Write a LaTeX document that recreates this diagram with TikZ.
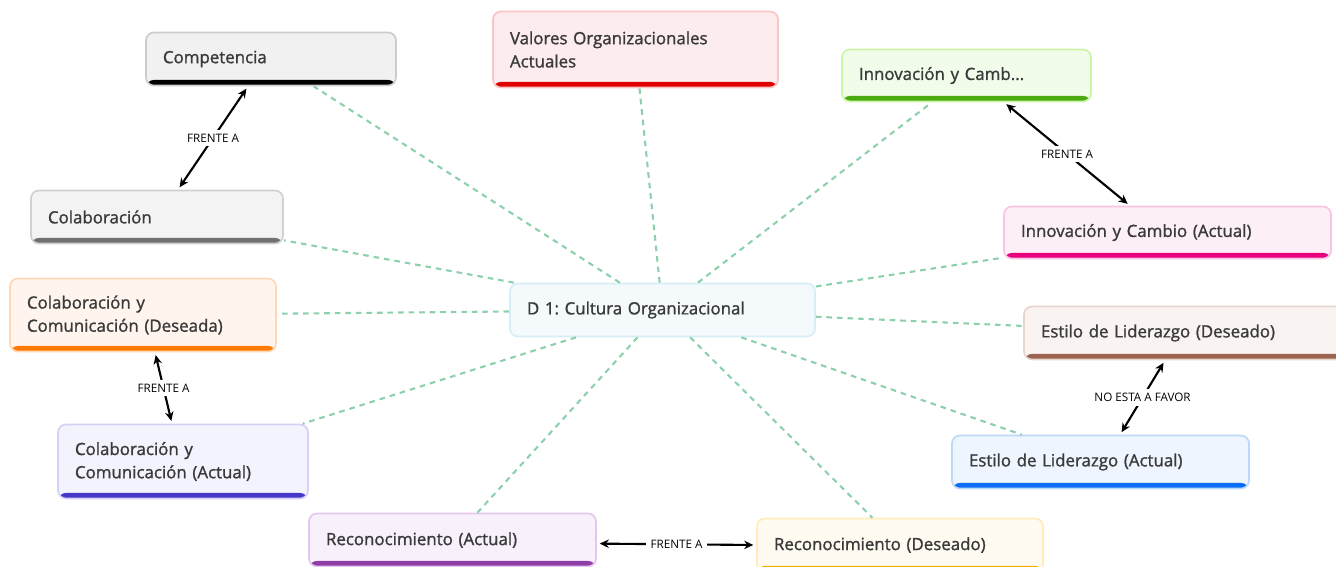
\documentclass[tikz,border=0pt]{standalone}
\usepackage{fontspec}
\setmainfont{Open Sans}
\newfontfamily\topicfont{Open Sans}[FakeBold=1.3]
\frenchspacing
\usetikzlibrary{arrows.meta, calc}
\definecolor{txtGray}{RGB}{58, 58, 58}
\definecolor{linkGreen}{RGB}{141, 208, 172}
\definecolor{compFill}{RGB}{241, 241, 241}
\definecolor{compDraw}{RGB}{204, 204, 204}
\definecolor{valFill}{RGB}{253, 236, 237}
\definecolor{valDraw}{RGB}{249, 197, 197}
\definecolor{valBar}{RGB}{224, 0, 0}
\definecolor{innFill}{RGB}{241, 253, 234}
\definecolor{innDraw}{RGB}{205, 245, 168}
\definecolor{innBar}{RGB}{74, 170, 16}
\definecolor{innAFill}{RGB}{253, 239, 247}
\definecolor{innADraw}{RGB}{250, 195, 227}
\definecolor{innABar}{RGB}{232, 0, 126}
\definecolor{colFill}{RGB}{243, 243, 243}
\definecolor{colDraw}{RGB}{208, 208, 208}
\definecolor{colBar}{RGB}{112, 112, 112}
\definecolor{colDFill}{RGB}{255, 245, 238}
\definecolor{colDDraw}{RGB}{255, 215, 181}
\definecolor{colDBar}{RGB}{255, 122, 0}
\definecolor{colAFill}{RGB}{243, 243, 253}
\definecolor{colADraw}{RGB}{211, 209, 247}
\definecolor{colABar}{RGB}{67, 56, 200}
\definecolor{hubFill}{RGB}{244, 250, 252}
\definecolor{hubDraw}{RGB}{214, 238, 245}
\definecolor{estDFill}{RGB}{249, 244, 241}
\definecolor{estDDraw}{RGB}{230, 214, 205}
\definecolor{estDBar}{RGB}{156, 99, 80}
\definecolor{estAFill}{RGB}{239, 245, 254}
\definecolor{estADraw}{RGB}{188, 216, 250}
\definecolor{estABar}{RGB}{11, 108, 245}
\definecolor{recAFill}{RGB}{248, 240, 250}
\definecolor{recADraw}{RGB}{229, 198, 238}
\definecolor{recABar}{RGB}{142, 62, 166}
\definecolor{recDFill}{RGB}{255, 251, 240}
\definecolor{recDDraw}{RGB}{255, 236, 184}
\definecolor{recDBar}{RGB}{240, 176, 0}

\begin{document}
\begin{tikzpicture}[
          x=0.025cm, y=-0.025cm,
          topic/.style n args={3}{draw=#2, fill=#1, line width=1.2pt,
                      rounded corners=0.2cm, inner xsep=0.425cm, align=left,
                      minimum height=1.325cm, text=txtGray,
                      font=\topicfont\fontsize{12}{16.5}\selectfont,
                      path picture={\fill[#3]
                        ([yshift=0.14cm]path picture bounding box.south west)
                        rectangle ([yshift=-2pt]path picture bounding box.south east);}},
          hub/.style={draw=hubDraw, fill=hubFill, line width=1.2pt,
                      rounded corners=0.2cm, inner xsep=0.425cm, align=left,
                      minimum height=1.325cm, text=txtGray,
                      font=\topicfont\fontsize{12}{16.5}\selectfont},
          link/.style={linkGreen, line width=1.5pt, dash pattern=on 4pt off 3.5pt},
          pair/.style={{Stealth[length=6.5pt,width=6pt]}-{Stealth[length=6.5pt,width=6pt]},
                      line width=1.5pt, shorten <=2pt, shorten >=2pt},
          lbl/.style={fill=white, inner sep=3pt, font=\fontsize{8.3}{9}\selectfont}
        ]
        \useasboundingbox (0,0) rectangle (1336,566);
        \clip (0,0) rectangle (1336,566);

        \node[hub, text width=6.775cm] (hub) at (662.5,310) {D 1: Cultura Organizacional};

        % upper half
        \node[topic={compFill}{compDraw}{black}, text width=5.4cm]
              (comp) at (271,59) {Competencia};
        \node[topic={valFill}{valDraw}{valBar}, text width=6.275cm, minimum height=1.9cm]
              (val) at (635.5,49.5) {Valores Organizacionales\\Actuales};
        \node[topic={innFill}{innDraw}{innBar}, text width=5.375cm, minimum height=1.3cm]
              (inn) at (966.5,75.5) {Innovación y Camb...};
        \node[topic={innAFill}{innADraw}{innABar}, text width=7.325cm, minimum height=1.3cm]
              (innA) at (1167.5,232.5) {Innovación y Cambio (Actual)};
        \node[topic={colFill}{colDraw}{colBar}, text width=5.45cm]
              (col) at (157,217) {Colaboración};

        % middle band
        \node[topic={colDFill}{colDDraw}{colDBar}, text width=5.8cm, minimum height=1.825cm]
              (colD) at (143,315) {Colaboración y\\Comunicación (Deseada)};
        \node[topic={estDFill}{estDDraw}{estDBar}, text width=7.15cm]
              (estD) at (1184,333) {Estilo de Liderazgo (Deseado)};

        % lower half
        \node[topic={colAFill}{colADraw}{colABar}, text width=5.4cm, minimum height=1.85cm]
              (colA) at (183,461.5) {Colaboración y\\Comunicación (Actual)};
        \node[topic={estAFill}{estADraw}{estABar}, text width=6.575cm]
              (estA) at (1100.5,462) {Estilo de Liderazgo (Actual)};
        \node[topic={recAFill}{recADraw}{recABar}, text width=6.325cm]
              (recA) at (452.5,540) {Reconocimiento (Actual)};
        \node[topic={recDFill}{recDDraw}{recDBar}, text width=6.3cm]
              (recD) at (900,545) {Reconocimiento (Deseado)};

        % spokes from the central topic
        \foreach \t in {comp, val, inn, innA, col, colD, estD, colA, estA, recA, recD}
          \draw[link] (hub) -- (\t);

        % paired topics
        \draw[pair] ([xshift=-0.575cm]comp.south) -- node[lbl]{FRENTE A}
              ([xshift=0.525cm]col.north);
        \draw[pair] ([xshift=0.94cm]inn.south) -- node[lbl]{FRENTE A}
              ([xshift=-0.94cm]innA.north);
        \draw[pair] ([xshift=0.3cm]colD.south) -- node[lbl]{FRENTE A}
              ([xshift=-0.275cm]colA.north);
        \draw[pair] ([xshift=-0.475cm]estD.south) -- node[lbl]{NO ESTA A FAVOR}
              ([xshift=0.49cm]estA.north);
        \draw[pair] ([yshift=-0.09cm]recA.east) -- node[lbl]{FRENTE A} (recD.west);
      \end{tikzpicture}
\end{document}
